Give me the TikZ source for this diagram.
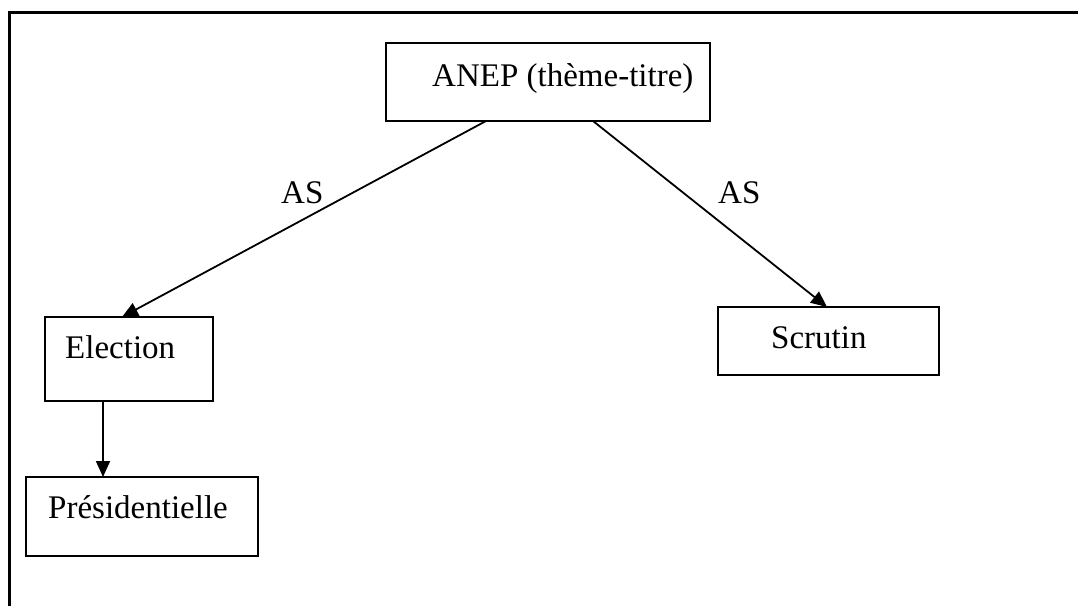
\documentclass[tikz,border=0pt]{standalone}
\usepackage{fontspec}
\setmainfont{Liberation Serif}
\usetikzlibrary{arrows.meta,calc}
\begin{document}
\begin{tikzpicture}[x=1pt,y=-1pt,
  box/.style={draw,line width=2pt,inner sep=0pt,outer sep=0pt,anchor=north west},
  lbl/.style={anchor=base west,inner sep=0pt,font=\fontsize{33}{40}\selectfont},
  conn/.style={line width=1.8pt,-{Triangle[length=16pt,width=14pt]}},
  frame/.style={line width=3pt}]
\useasboundingbox (0,0) rectangle (1078,606);
\coordinate (fb) at (9,606);
\coordinate (fc) at (9,12);
\coordinate (fr) at (1078,12);
\draw[frame] (fb) -- (fc) -- (fr);
\node[box,minimum width=324pt,minimum height=78pt] (anep) at (386,43) {};
\node[box,minimum width=168pt,minimum height=84pt] (elec) at (45,317) {};
\node[box,minimum width=221pt,minimum height=68pt] (scru) at (718,307) {};
\node[box,minimum width=232pt,minimum height=79pt] (pres) at (26,477) {};
\node[lbl] (anept) at (432,86) {ANEP (thème-titre)};
\node[lbl] (elect) at (65,358) {Election};
\node[lbl] (scrut) at (771,348) {Scrutin};
\node[lbl] (prest) at (48,518) {Présidentielle};
\node[lbl] (as1) at (281,203) {AS};
\node[lbl] (as2) at (718,203) {AS};
\draw[conn] ($(anep.south west)+(100,0)$) -- ($(elec.north west)+(77,0)$);
\draw[conn] ($(anep.south west)+(207,0)$) -- ($(scru.north west)+(109,0)$);
\draw[conn] ($(elec.south west)+(58,0)$) -- ($(pres.north west)+(77,0)$);
\end{tikzpicture}
\end{document}
